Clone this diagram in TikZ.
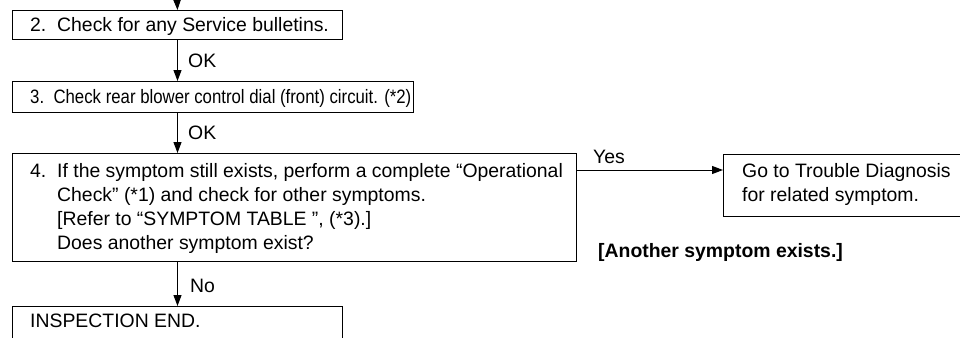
\documentclass[tikz,border=0pt]{standalone}
\usepackage{fontspec}
\usepackage{graphicx}
\setmainfont{Liberation Sans}
\usetikzlibrary{arrows.meta}
\newcommand\diafont{\fontsize{19.4pt}{24pt}\selectfont}
\begin{document}
\begin{tikzpicture}[x=1pt,y=1pt,
  box/.style={draw, line width=1pt, anchor=north west, inner sep=0pt},
  txt/.style={inner sep=0pt, font=\diafont, align=left},
  lbl/.style={inner sep=0pt, font=\diafont, anchor=base west},
  arr/.style={line width=1pt, -{Triangle[length=11pt,width=8pt]}}]
\useasboundingbox (0,0) rectangle (960,-337);
\clip (0,0) rectangle (960,-337);
% boxes
\node[box, minimum width=330, minimum height=29] (b2) at (12,-10) {};
\node[box, minimum width=401, minimum height=31] (b3) at (12,-81) {};
\node[box, minimum width=564, minimum height=108] (b4) at (12,-153) {};
\node[box, minimum width=250, minimum height=62] (go) at (723,-154) {};
\node[box, minimum width=330, minimum height=40] (end) at (12,-306) {};
% texts
\node[txt, anchor=base west] (t2) at (30,-31.5) {\makebox[27pt][l]{2.}Check for any Service bulletins.};
\node[txt, anchor=base west] (t3) at (30,-103.5) {\scalebox{0.865}[1]{\makebox[27pt][l]{3.}Check rear blower control dial (front) circuit. (*2)}};
\node[txt, anchor=north west] (t4) at (30,-163) {\makebox[27pt][l]{4.}If the symptom still exists, perform a complete “Operational\\
\hspace*{27pt}Check” (*1) and check for other symptoms.\\
\hspace*{27pt}[Refer to “SYMPTOM TABLE ”, (*3).]\\
\hspace*{27pt}Does another symptom exist?};
\node[txt, anchor=north west] (tgo) at (742,-163) {Go to Trouble Diagnosis\\for related symptom.};
\node[txt, anchor=base west] (tend) at (30,-327) {INSPECTION END.};
% labels
\node[lbl] (ok1) at (188,-67) {OK};
\node[lbl] (ok2) at (188,-139.5) {OK};
\node[lbl] (yes) at (593,-163) {Yes};
\node[lbl] (no) at (190,-292) {No};
\node[lbl, font=\diafont\bfseries] (another) at (598,-257) {[Another symptom exists.]};
% connectors
\coordinate (top) at (177,2);
\coordinate (yesy) at (0,-170);
\draw[arr] (top) -- (b2.north);
\draw[arr] (b2.south) -- (b2.south |- b3.north);
\draw[arr] (b2.south |- b3.south) -- (b2.south |- b4.north);
\draw[arr] (b4.east |- yesy) -- (go.west |- yesy);
\draw[arr] (b2.south |- b4.south) -- (b2.south |- end.north);
\end{tikzpicture}
\end{document}
